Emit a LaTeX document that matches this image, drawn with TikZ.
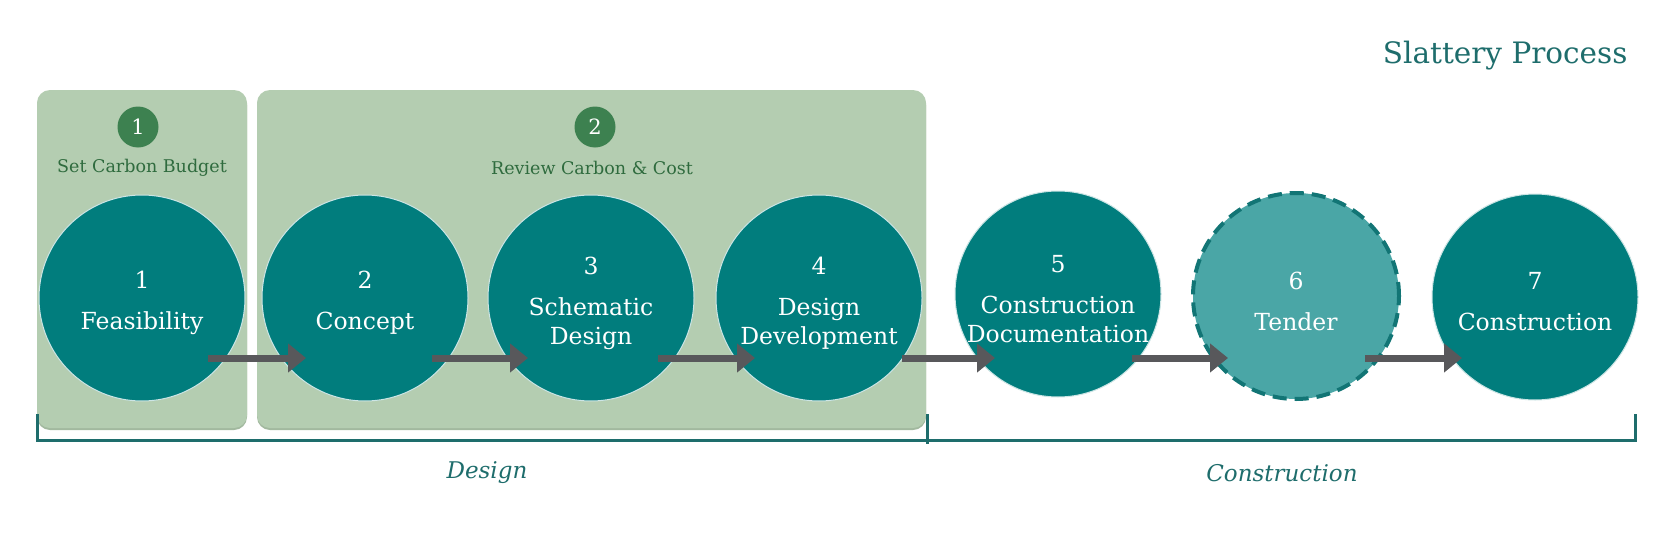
\documentclass[tikz,border=0pt]{standalone}
\usepackage{fontspec}
\setmainfont{DejaVu Serif}
\usetikzlibrary{arrows.meta}
\definecolor{tealc}{HTML}{017D7D}
\definecolor{tenderc}{HTML}{4AA6A6}
\definecolor{tenderb}{HTML}{127575}
\definecolor{boxc}{HTML}{B4CDB1}
\definecolor{boxsh}{HTML}{A2B99F}
\definecolor{badgec}{HTML}{3D8150}
\definecolor{greentxt}{HTML}{2F6B3E}
\definecolor{titlec}{HTML}{1E6D6C}
\definecolor{arrowc}{HTML}{58585B}
\tikzset{
  stage/.style={circle, fill=tealc, draw=white!80!tealc, line width=1pt, minimum size=206pt, inner sep=0pt},
  tenderstage/.style={stage, fill=tenderc, draw=tenderb, line width=4pt, dash pattern=on 14pt off 8pt},
  stagetext/.style={text=white, align=center, inner sep=0pt, font=\fontsize{23.5}{29}\selectfont},
  phasebox/.style={fill=boxc, rounded corners=13pt},
  phaseshadow/.style={fill=boxsh, rounded corners=13pt},
  badge/.style={circle, fill=badgec, minimum size=41pt, inner sep=0pt, text=white, font=\fontsize{21}{22}\selectfont},
  badgelabel/.style={text=greentxt, font=\fontsize{17.5}{20}\selectfont},
  flow/.style={draw=arrowc, line width=7pt, -{Triangle[length=18pt,width=28pt]}, arrowc},
  bracket/.style={draw=titlec, line width=3pt},
  phaselabel/.style={text=titlec, font=\fontsize{23}{26}\selectfont\itshape},
}
\begin{document}
\begin{tikzpicture}[x=1pt, y=-1pt]
\useasboundingbox[fill=white] (0,0) rectangle (1667,538);

% phase boxes
\fill[phaseshadow] (37,92) rectangle (247,430);
\fill[phasebox] (37,90) rectangle (247,428);
\fill[phaseshadow] (257,92) rectangle (926,430);
\fill[phasebox] (257,90) rectangle (926,428);

% title
\node[anchor=base east, text=titlec, font=\fontsize{29.5}{32}\selectfont] (title) at (1631,63) {Slattery Process};

% badges
\node[badge] (b1) at (138,127) {1};
\node[badgelabel] (l1) at (142,168) {Set Carbon Budget};
\node[badge] (b2) at (595,127) {2};
\node[badgelabel] (l2) at (592,168) {Review Carbon \& Cost};

% stages
\node[stage] (c1) at (142,298) {};
\node[stage] (c2) at (365,298) {};
\node[stage] (c3) at (591,298) {};
\node[stage] (c4) at (819,298) {};
\node[stage] (c5) at (1058,294) {};
\node[tenderstage] (c6) at (1296,296) {};
\node[stage] (c7) at (1535,297) {};

\node[stagetext] (t1) at ([yshift=-5pt]c1.center) {1\\[12pt]Feasibility};
\node[stagetext] (t2) at ([yshift=-5pt]c2.center) {2\\[12pt]Concept};
\node[stagetext] (t3) at ([yshift=-5pt]c3.center) {3\\[12pt]Schematic\\Design};
\node[stagetext] (t4) at ([yshift=-5pt]c4.center) {4\\[12pt]Design\\Development};
\node[stagetext] (t5) at ([yshift=-5pt]c5.center) {5\\[12pt]Construction\\Documentation};
\node[stagetext] (t6) at ([yshift=-5pt]c6.center) {6\\[12pt]Tender};
\node[stagetext] (t7) at ([yshift=-5pt]c7.center) {7\\[12pt]Construction};

% arrows
\draw[flow] ([shift={(66,60)}]c1.center) -- ([shift={(-59,60)}]c2.center);
\draw[flow] ([shift={(67,60)}]c2.center) -- ([shift={(-63,60)}]c3.center);
\draw[flow] ([shift={(67,60)}]c3.center) -- ([shift={(-64,60)}]c4.center);
\draw[flow] ([shift={(83,60)}]c4.center) -- ([shift={(-63,64)}]c5.center);
\draw[flow] ([shift={(74,64)}]c5.center) -- ([shift={(-68,62)}]c6.center);
\draw[flow] ([shift={(69,62)}]c6.center) -- ([shift={(-73,61)}]c7.center);

% bracket
\coordinate (bl) at (37,414);
\coordinate (bm) at (927,414);
\coordinate (br) at (1635,414);
\draw[bracket] (bl) -- ++(0,26) -- (br |- 0,440) -- (br);
\draw[bracket] (bm) -- ++(0,30);

\node[phaselabel] (dl) at (487,473) {Design};
\node[phaselabel] (cl) at (1282,473) {Construction};
\end{tikzpicture}
\end{document}
